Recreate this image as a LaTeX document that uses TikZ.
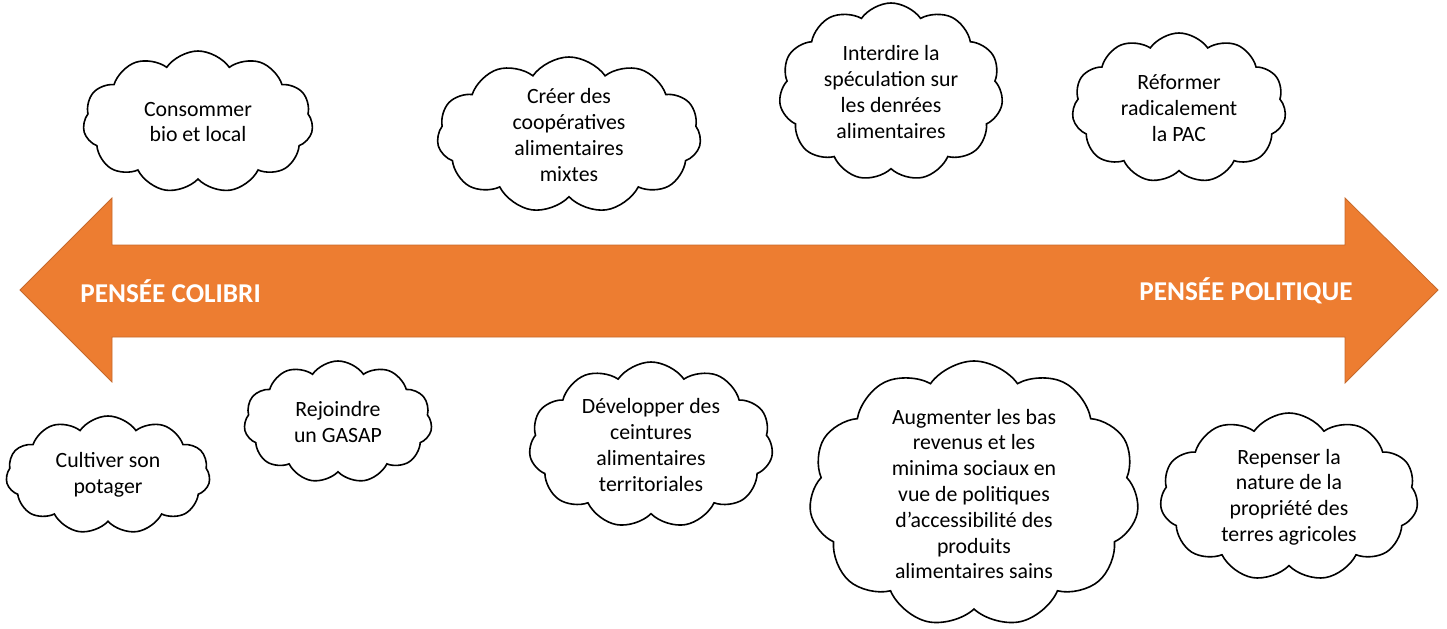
\documentclass[tikz,border=0pt]{standalone}
\usepackage{fontspec}
\setmainfont{Carlito}
\usetikzlibrary{shapes.symbols}
\definecolor{arroworange}{HTML}{ED7D31}
\definecolor{arrowedge}{HTML}{C6692B}
\tikzset{
    idea/.style={cloud, draw=black, thick, fill=white, cloud puffs=11,
        cloud puff arc=110, cloud ignores aspect, align=center,
        inner sep=0pt, font=\fontsize{10.9}{12.9}\selectfont},
    pole/.style={text=white, font=\fontsize{13.6}{16}\selectfont\bfseries},
}

\begin{document}
\begin{tikzpicture}[x=0.5pt, y=-0.5pt]
    \useasboundingbox (0,0) rectangle (1447,628);

    % double arrow
    \filldraw[fill=arroworange, draw=arrowedge] (20,290) -- (112,198) -- (112,245)
        -- (1345,245) -- (1345,198) -- (1438,290) -- (1345,383) -- (1345,337)
        -- (112,337) -- (112,382) -- cycle;
    \node[pole, anchor=west, inner sep=0pt] (colibri) at (80,291) {PENSÉE COLIBRI};
    \node[pole, anchor=east, inner sep=0pt] (politique) at (1353,291) {PENSÉE POLITIQUE};

    % above the arrow
    \node[idea, minimum width=115pt, minimum height=71pt] (bio) at (198,122)
        {Consommer\\bio et local};
    \node[idea, minimum width=132pt, minimum height=78pt] (coop) at (569,135)
        {Créer des\\coopératives\\alimentaires\\mixtes};
    \node[idea, minimum width=112pt, minimum height=89pt] (specu) at (891,92)
        {Interdire la\\spéculation sur\\les denrées\\alimentaires};
    \node[idea, minimum width=107pt, minimum height=75pt] (pac) at (1179,108)
        {Réformer\\radicalement\\la PAC};

    % below the arrow
    \node[idea, minimum width=102pt, minimum height=59pt] (potager) at (108,475)
        {Cultiver son\\potager};
    \node[idea, minimum width=94pt, minimum height=61pt] (gasap) at (338,422)
        {Rejoindre\\un GASAP};
    \node[idea, minimum width=122pt, minimum height=83pt] (ceinture) at (651,445)
        {Développer des\\ceintures\\alimentaires\\territoriales};
    \node[idea, minimum width=165pt, minimum height=133pt] (revenus) at (974,494)
        {Augmenter les bas\\revenus et les\\minima sociaux en\\vue de politiques\\d’accessibilité des\\produits\\alimentaires sains};
    \node[idea, minimum width=129pt, minimum height=84pt] (terres) at (1289,497)
        {Repenser la\\nature de la\\propriété des\\terres agricoles};
\end{tikzpicture}
\end{document}
